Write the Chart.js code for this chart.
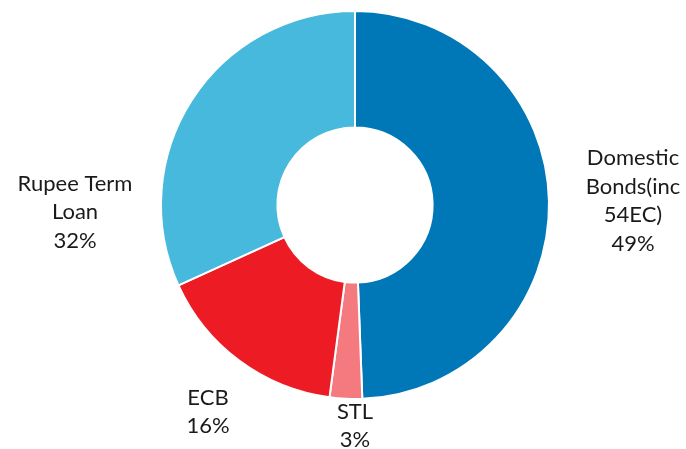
<!DOCTYPE html>
<html>
<head>
<meta charset="utf-8">
<script src="https://cdn.jsdelivr.net/npm/chart.js@4"></script>
<style>
  html, body { margin: 0; padding: 0; background: #fff; }
  #wrap { width: 686px; height: 449px; }
</style>
</head>
<body>
<div id="wrap"><canvas id="donut"></canvas></div>
<script>
const categories = ["Domestic Bonds(inc 54EC)", "STL", "ECB", "Rupee Term Loan"];
// shares (the labels show them rounded)
const shares = [49.4, 2.7, 16.1, 31.8];
// how each label is broken into lines, like the original
const labelLines = [["Domestic", "Bonds(inc", "54EC)"], ["STL"], ["ECB"], ["Rupee Term", "Loan"]];
const colors = ["#0077B6", "#F47A7F", "#ED1C24", "#47B9DC"];

// outside labels, placed around the doughnut's centre (like Excel's best-fit)
const outsideLabels = {
  id: "outsideLabels",
  afterDatasetsDraw(chart) {
    const ctx = chart.ctx;
    const meta = chart.getDatasetMeta(0);
    // offset of each label block from the doughnut centre
    const spot = [[278, -4], [0, 221], [-147, 207], [-280, 7]];
    ctx.save();
    ctx.font = "22px Lato, 'Noto Sans', sans-serif";
    ctx.fillStyle = "#1a1a1a";
    ctx.textAlign = "center";
    ctx.textBaseline = "middle";
    const lh = 28.5;
    meta.data.forEach((arc, i) => {
      const x = arc.x + spot[i][0];
      const y = arc.y + spot[i][1];
      const lines = labelLines[i].concat([Math.round(shares[i]) + "%"]);
      const top = y - (lines.length - 1) * lh / 2;
      lines.forEach((t, k) => ctx.fillText(t, x, top + k * lh));
    });
    ctx.restore();
  }
};

new Chart(document.getElementById("donut"), {
  type: "doughnut",
  data: {
    labels: categories,
    datasets: [{
      data: shares,
      backgroundColor: colors,
      borderColor: "#ffffff",
      borderWidth: 2
    }]
  },
  options: {
    responsive: true,
    maintainAspectRatio: false,
    animation: false,
    cutout: "40%",
    layout: { padding: { left: 160, right: 136, top: 10, bottom: 49 } },
    plugins: {
      legend: { display: false },
      tooltip: { enabled: false }
    }
  },
  plugins: [outsideLabels]
});
</script>
</body>
</html>
